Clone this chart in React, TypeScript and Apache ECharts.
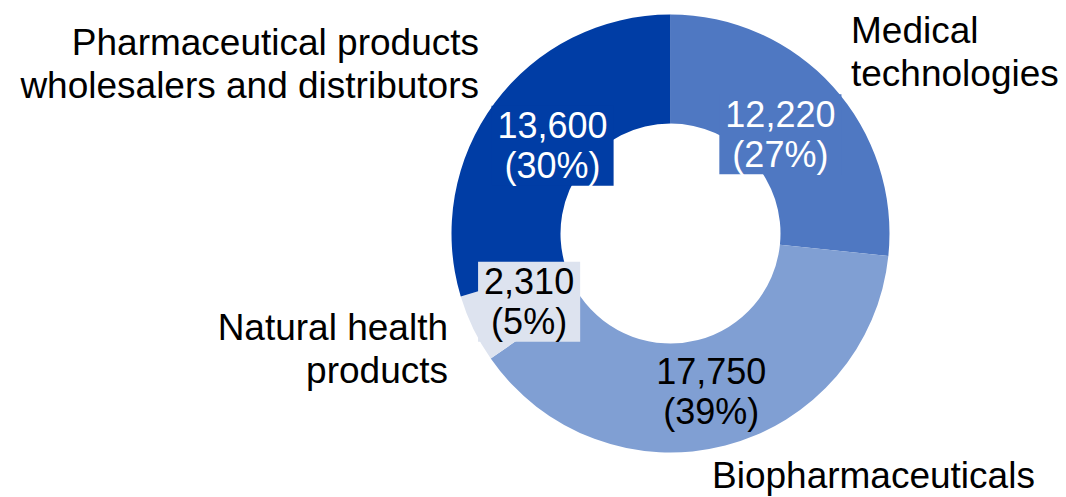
import React, { useEffect, useRef } from "react";
import * as echarts from "echarts";

const categories = [
  "Medical\ntechnologies",
  "Biopharmaceuticals",
  "Natural health\nproducts",
  "Pharmaceutical products\nwholesalers and distributors",
];
const values = [12220, 17750, 2310, 13600];
const colors = ["#4F78C2", "#809FD3", "#DDE3EF", "#003DA5"];
const valueTextColors = ["#ffffff", "#000000", "#000000", "#ffffff"];
const valueBoxColors = ["#4F78C2", "transparent", "#DDE3EF", "#003DA5"];

// layout (not data): radial distance of the value labels, and name label anchors
const CX = 670.5;
const CY = 233.5;
const R0 = 110;
const R1 = 219;
const valueLabelDist = [148, 163, 157, 147];
const nameAnchors = [
  { x: 851, y: 52, align: "left" },
  { x: 712, y: 475, align: "left" },
  { x: 448, y: 349, align: "right" },
  { x: 479, y: 64, align: "right" },
];

const FONT = "'Liberation Sans', Arial, Helvetica, sans-serif";

export default function App() {
  const ref = useRef<HTMLDivElement>(null);
  useEffect(() => {
    document.body.style.margin = "0";
    if (!ref.current) return;
    const chart = echarts.init(ref.current, undefined, { renderer: "svg" });
    const total = values.reduce((a, b) => a + b, 0);
    const midAngles: number[] = [];
    let acc = 0;
    values.forEach((v) => {
      const a0 = (acc / total) * Math.PI * 2;
      acc += v;
      const a1 = (acc / total) * Math.PI * 2;
      midAngles.push((a0 + a1) / 2);
    });
    const data = values.map((v, i) => ({
      name: categories[i],
      value: v,
      itemStyle: { color: colors[i] },
      label: {
        color: valueTextColors[i],
        backgroundColor: valueBoxColors[i],
      },
    }));
    const nameData = values.map((v, i) => ({ name: categories[i], value: v }));
    chart.setOption({
      animation: false,
      series: [
        {
          type: "pie",
          center: [CX, CY],
          radius: [R0, R1],
          startAngle: 90,
          clockwise: true,
          silent: true,
          data,
          label: {
            show: true,
            position: "inside",
            fontFamily: FONT,
            fontSize: 36,
            lineHeight: 40,
            padding: [0, 6],
            align: "center",
            overflow: "none",
            formatter: (p: any) =>
              p.value.toLocaleString("en-US") + "\n(" + Math.round(p.percent) + "%)",
          },
          labelLine: { show: false },
          labelLayout: (p: any) => {
            const i = p.dataIndex;
            const a = midAngles[i];
            return {
              x: CX + valueLabelDist[i] * Math.sin(a),
              y: CY - valueLabelDist[i] * Math.cos(a),
              align: "center",
              verticalAlign: "middle",
            };
          },
        },
        {
          type: "pie",
          center: [CX, CY],
          radius: [R0, R1],
          startAngle: 90,
          clockwise: true,
          silent: true,
          z: 1,
          itemStyle: { color: "rgba(0,0,0,0)" },
          data: nameData,
          label: {
            show: true,
            position: "outside",
            alignTo: "none",
            fontFamily: FONT,
            fontSize: 37,
            lineHeight: 43,
            color: "#000000",
            overflow: "none",
            width: 1000,
            formatter: "{b}",
          },
          labelLine: { show: false },
          labelLayout: (p: any) => {
            const n = nameAnchors[p.dataIndex];
            return { x: n.x, y: n.y, align: n.align, verticalAlign: "middle" };
          },
        },
      ],
    });
    return () => chart.dispose();
  }, []);
  return <div ref={ref} style={{ width: 1066, height: 497 }} />;
}
